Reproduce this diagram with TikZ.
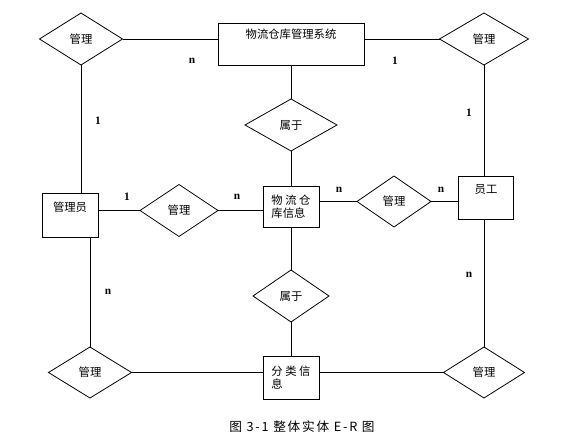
\documentclass[tikz,border=0pt]{standalone}
\usepackage{fontspec}
\setmainfont{Liberation Serif}
\newfontfamily\cjk{Noto Sans CJK SC}
\newfontfamily\capfont[LetterSpace=14]{Noto Sans CJK SC}
\usetikzlibrary{shapes.geometric}

\begin{document}
\begin{tikzpicture}[x=0.75pt,y=0.75pt,yscale=-1,xscale=1,
    line width=0.6pt,
    rel/.style={draw,diamond,inner sep=0pt,outer sep=0pt,minimum height=39pt,font=\cjk\fontsize{8.5}{10}\selectfont},
    ent/.style={draw,rectangle,inner sep=0pt,outer sep=0pt,font=\cjk\fontsize{8.5}{10}\selectfont},
    card/.style={inner sep=0pt,font=\bfseries\fontsize{8.5}{10}\selectfont}]
            \useasboundingbox (0,0) rectangle (575,438);
            \node[ent,minimum width=109.5pt,text height=11.5pt,text depth=20pt] (sys) at (291,44) {物流仓库管理系统};
            \node[ent,minimum width=42pt,text height=13.8pt,text depth=19.2pt] (adm) at (70,215) {管理员};
            \node[ent,minimum width=41.25pt,text height=13pt,text depth=19.25pt] (emp) at (486,197.5) {员工};
            \node[ent,minimum width=42pt,minimum height=30.75pt,align=left] (info) at (291,206.5) {物 流 仓\\库信息};
            \node[ent,minimum width=42pt,minimum height=32.25pt,align=left] (cls) at (291,377.5) {分 类 信\\息};
            \node[rel,minimum width=62.25pt] (m1) at (81,39) {管理};
            \node[rel,minimum width=66.75pt] (m2) at (484,39) {管理};
            \node[rel,minimum width=69pt] (b1) at (291,125) {属于};
            \node[rel,minimum width=58.5pt] (m3) at (179,210.5) {管理};
            \node[rel,minimum width=55.5pt,minimum height=38.25pt] (m4) at (394,201.5) {管理};
            \node[rel,minimum width=57pt] (b2) at (291,296) {属于};
            \node[rel,minimum width=62.25pt,minimum height=38.25pt] (m7) at (90,372.5) {管理};
            \node[rel,minimum width=60.75pt,minimum height=38.25pt] (m8) at (484,372.5) {管理};
            \draw (m1.east) -- (m1.east -| sys.west);
            \draw (sys.east |- m2.west) -- (m2.west);
            \draw (sys.south) -- (b1.north);
            \draw (b1.south) -- (info.north);
            \draw (info.south) -- (b2.north);
            \draw (b2.south) -- (cls.north);
            \draw (m1.south) -- (m1.south |- adm.north);
            \draw (m2.south) -- (m2.south |- emp.north);
            \draw (adm.east |- m3.west) -- (m3.west);
            \draw (m3.east) -- (m3.east -| info.west);
            \draw (info.east |- m4.west) -- (m4.west);
            \draw (m4.east) -- (m4.east -| emp.west);
            \draw (m7.north |- adm.south) -- (m7.north);
            \draw (m8.north |- emp.south) -- (m8.north);
            \draw (m7.east) -- (m7.east -| cls.west);
            \draw (cls.east |- m8.west) -- (m8.west);
            \node[card] (c1) at (192,61) {n};
            \node[card] (c2) at (395,61) {1};
            \node[card] (c3) at (98,121) {1};
            \node[card] (c4) at (469,113) {1};
            \node[card] (c5) at (127,197) {1};
            \node[card] (c6) at (237,197) {n};
            \node[card] (c7) at (339,190) {n};
            \node[card] (c8) at (441,190) {n};
            \node[card] (c9) at (108,292) {n};
            \node[card] (c10) at (469,275) {n};
            \node[inner sep=0pt,font=\capfont\fontsize{9.5}{11}\selectfont] (cap) at (302,427) {图 3-1 整体实体 E-R 图};
        \end{tikzpicture}
\end{document}
